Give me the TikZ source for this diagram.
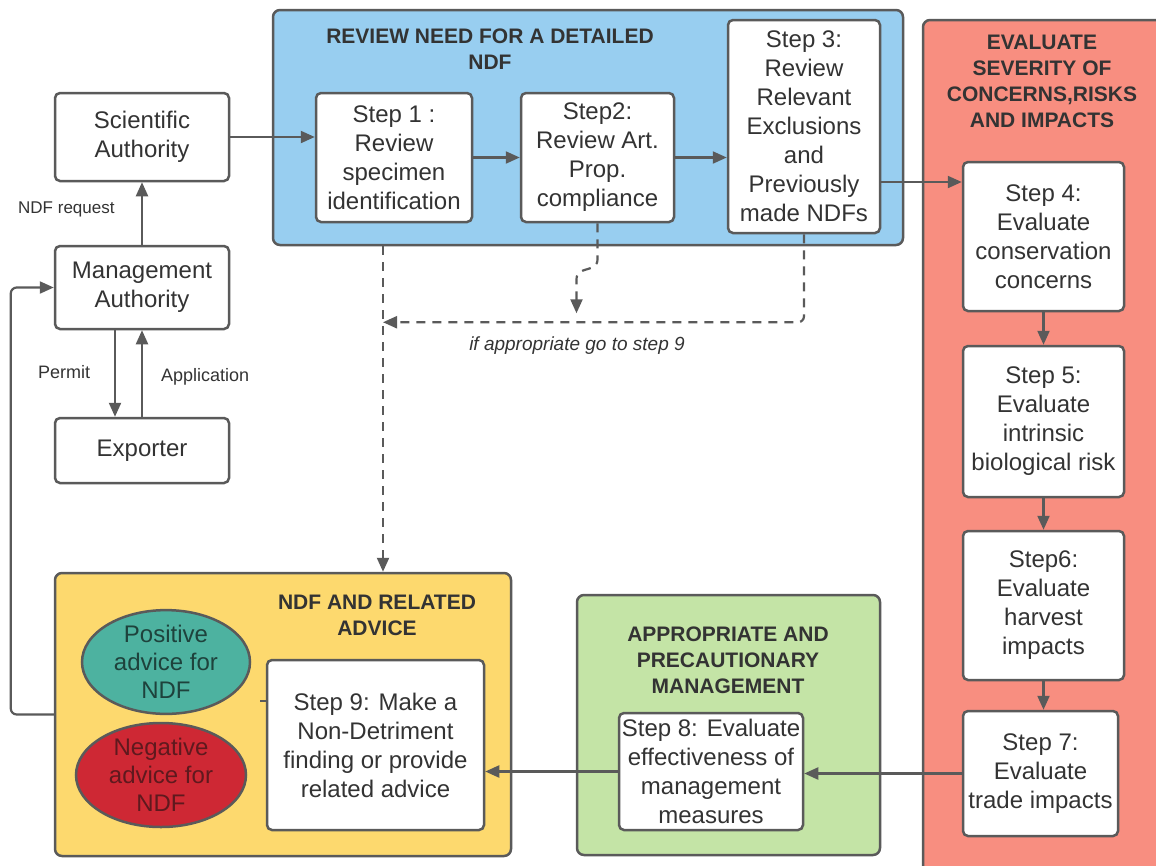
\documentclass[tikz,border=0pt]{standalone}
\usepackage{fontspec}
\setmainfont{Liberation Sans}
\usetikzlibrary{arrows.meta,shapes.geometric}
\definecolor{lc}{HTML}{5A5A5A}
\definecolor{tc}{HTML}{333333}
\definecolor{bluef}{HTML}{98CEF0}
\definecolor{redf}{HTML}{F88E80}
\definecolor{greenf}{HTML}{C4E4A6}
\definecolor{yellowf}{HTML}{FDD96E}
\definecolor{tealf}{HTML}{4DB2A0}
\definecolor{rede}{HTML}{CE2834}
\begin{document}
\begin{tikzpicture}[x=1pt,y=-1pt,
  box/.style={draw=lc, line width=2.5pt, rounded corners=5pt, fill=white, align=center, text=tc,
    font=\fontsize{24}{29}\selectfont, inner sep=0pt},
  grp/.style={draw=lc, line width=2.5pt, rounded corners=7pt, inner sep=0pt},
  ttl/.style={font=\bfseries\fontsize{21}{26}\selectfont, align=center, inner sep=0pt},
  ell/.style={ellipse, draw=lc, line width=2.5pt, align=center, inner sep=0pt,
    font=\fontsize{24}{28}\selectfont},
  lbl/.style={text=tc, inner sep=0pt, font=\fontsize{18}{22}\selectfont},
  arr/.style={draw=lc, line width=2.2pt, -{Triangle[length=14pt,width=12pt]}},
  dsh/.style={arr, dash pattern=on 9pt off 7pt}]
\useasboundingbox (0,0) rectangle (1156,865);
\fill[white] (0,0) rectangle (1156,865);

% group boxes
\node[grp, fill=bluef, minimum width=630pt, minimum height=235pt] (blue) at (588,127.5) {};
\node[grp, fill=redf, minimum width=250pt, minimum height=860pt] (red) at (1048,450) {};
\node[grp, fill=greenf, minimum width=303pt, minimum height=260pt] (green) at (728.5,725) {};
\node[grp, fill=yellowf, minimum width=456pt, minimum height=283pt] (yl) at (283,714.5) {};

% titles
\node[ttl, text=tc] (tblue) at (490,49.5) {REVIEW NEED FOR A DETAILED\\NDF};
\node[ttl, text=tc] (tred) at (1042,81.5) {EVALUATE\\SEVERITY OF\\CONCERNS,RISKS\\AND IMPACTS};
\node[ttl, text=tc] (tgreen) at (728,660) {APPROPRIATE AND\\PRECAUTIONARY\\MANAGEMENT};
\node[ttl, text=tc] (tyl) at (377,615) {NDF AND RELATED\\ADVICE};

% left column
\node[box, minimum width=174pt, minimum height=88pt] (sa) at (142,137) {Scientific\\Authority};
\node[box, minimum width=174pt, minimum height=83pt] (ma) at (142,287.5) {Management\\Authority};
\node[box, minimum width=174pt, minimum height=65pt] (ex) at (142,450.5) {Exporter};

% steps
\node[box, minimum width=156pt, minimum height=129pt] (s1) at (394,157.5) {Step 1 :\\Review\\specimen\\identification};
\node[box, minimum width=153pt, minimum height=129pt] (s2) at (597.5,157.5) {Step2:\\Review Art.\\Prop.\\compliance};
\node[box, minimum width=152pt, minimum height=213pt] (s3) at (804,126.5) {Step 3:\\Review\\Relevant\\Exclusions\\and\\Previously\\made NDFs};
\node[box, minimum width=161pt, minimum height=149pt] (s4) at (1043.5,236.5) {Step 4:\\Evaluate\\conservation\\concerns};
\node[box, minimum width=161pt, minimum height=151pt] (s5) at (1043.5,421.5) {Step 5:\\Evaluate\\intrinsic\\biological risk};
\node[box, minimum width=161pt, minimum height=149pt] (s6) at (1043.5,605.5) {Step6:\\Evaluate\\harvest\\impacts};
\node[box, minimum width=155pt, minimum height=125pt] (s7) at (1040.5,773.5) {Step 7:\\Evaluate\\trade impacts};
\node[box, minimum width=184pt, minimum height=117pt] (s8) at (711,771.5) {Step 8: Evaluate\\effectiveness of\\management\\measures};
\node[box, minimum width=217pt, minimum height=170pt] (s9) at (375.5,745) {Step 9: Make a\\Non-Detriment\\finding or provide\\related advice};

% ellipses
\node[ell, fill=tealf, text={rgb,255:red,30;green,66;blue,60}, minimum width=168pt, minimum height=102pt] (pos) at (166,662) {Positive\\advice for\\NDF};
\node[ell, fill=rede, text={rgb,255:red,95;green,25;blue,30}, minimum width=170pt, minimum height=104pt] (neg) at (161,775) {Negative\\advice for\\NDF};

% solid connectors
\draw[arr] (sa.east) -- (sa.east -| s1.west);
\draw[arr] (s1) -- (s2);
\draw[arr] (s2.east) -- (s2.east -| s3.west);
\coordinate (p34) at ([yshift=-55.5pt]s3.east);
\draw[arr] (p34) -- (p34 -| s4.west);
\draw[arr] (s4) -- (s5);
\draw[arr] (s5) -- (s6);
\draw[arr] (s6.south) -- (s6.south |- s7.north);
\draw[arr] (s7.west) -- (s7.west -| s8.east);
\draw[arr] (s8.west) -- (s8.west -| s9.east);
\draw[arr] (ma.north) -- (sa.south);
\coordinate (pm) at ([xshift=-27pt]ma.south);
\draw[arr] (pm) -- (pm |- ex.north);
\draw[arr] (ex.north) -- (ma.south);
\draw[arr, rounded corners=6pt] (yl.west) -- ++(-43,0) |- (ma.west);
\coordinate (tk) at ([yshift=44pt]s9.west);
\draw[lc, line width=2pt] (tk) -- ++(-6,0);

% labels
\node[lbl, font=\fontsize{17}{20}\selectfont, anchor=west] (lreq) at (18,209) {NDF request};
\node[lbl, anchor=west] (lper) at (38,372) {Permit};
\node[lbl, anchor=west] (lapp) at (161,377) {Application};
\node[lbl, font=\itshape\fontsize{19}{22}\selectfont] (lif) at (577,346) {if appropriate go to step 9};

% dashed connectors
\coordinate (d1) at ([xshift=-205pt]blue.south);
\draw[dsh] (d1) -- (d1 |- yl.north);
\coordinate (hl) at ([yshift=-76pt]d1);
\draw[dsh, rounded corners=6pt] (s3.south) |- (hl);
\draw[dsh] (s2.south) -- ++(0,36) .. controls +(0,14) and +(0,-14) .. ++(-21,20) -- ++(0,34);
\end{tikzpicture}
\end{document}
